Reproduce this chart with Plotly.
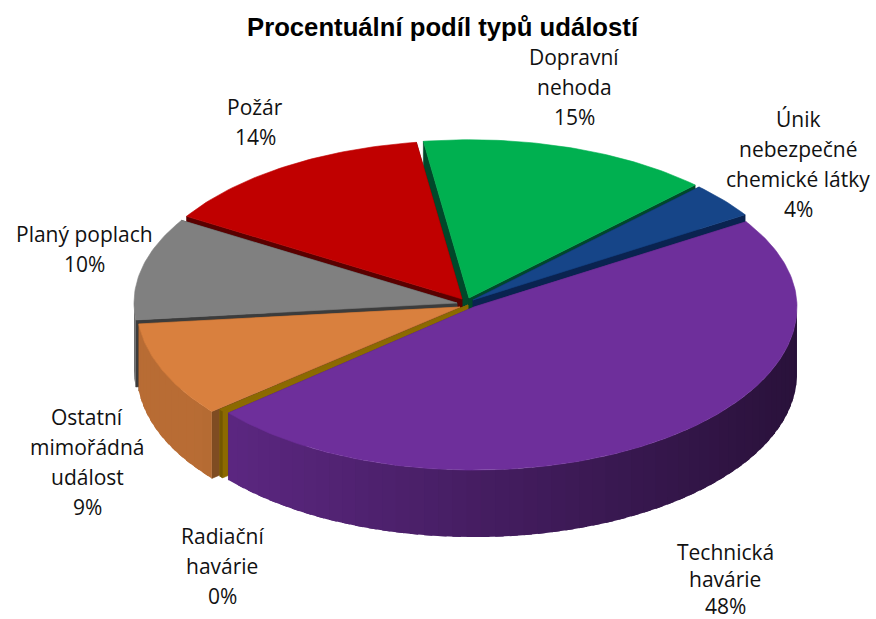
import math
import plotly.graph_objects as go

categories = ["Technická havárie", "Radiační havárie", "Ostatní mimořádná událost",
              "Planý poplach", "Požár", "Dopravní nehoda", "Únik nebezpečné chemické látky"]
values = [47.8, 0.2, 9.4, 10.4, 14.0, 14.6, 3.6]

# styling
top_colors = ["#6e2f9b", "#8c6a00", "#d9803e", "#808080", "#c00000", "#00b050", "#164588"]
cut_colors = ["#4a2070", "#8c6a00", "#7f4c22", "#3c3c3c", "#5a0000", "#00482a", "#0a2350"]
apexes = [(474, 307), (468, 305), (460, 307), (457, 303), (462, 299), (469, 298), (473, 300)]
label_lines = [["Technická", "havárie"], ["Radiační", "havárie"], ["Ostatní", "mimořádná", "událost"],
               ["Planý poplach"], ["Požár"], ["Dopravní", "nehoda"], ["Únik", "nebezpečné", "chemické látky"]]
label_pos = [(725, 552), (222, 536), (87, 417), (84, 234), (255, 107), (574, 57), (798, 119)]
line_gaps = [27, 30, 30, 30, 30, 30, 30]
paint_order = [5, 6, 4, 3, 2, 1, 0]
START = -32.6
RX, K_BACK, K_FRONT, DEPTH = 323, 0.49, 0.505, 67
W, H = 876, 619

def shade(hex_c, f):
    r, g, b = (int(hex_c[i:i+2], 16) for i in (1, 3, 5))
    return f"rgb({int(r*f)},{int(g*f)},{int(b*f)})"

def rim(a, t, dy=0):
    r = math.radians(t)
    s = math.sin(r)
    return a[0] + RX*math.cos(r), a[1] + RX*(K_FRONT if s > 0 else K_BACK)*s + dy

def poly(fig, pts, color, lw=0.6):
    fig.add_trace(go.Scatter(x=[p[0] for p in pts] + [pts[0][0]], y=[p[1] for p in pts] + [pts[0][1]],
                             mode="lines", fill="toself", fillcolor=color,
                             line=dict(color=color, width=lw), hoverinfo="skip", showlegend=False))

total = sum(values)
angles = []
t = START
for v in values:
    angles.append((t, t + v/total*360))
    t += v/total*360

fig = go.Figure()
for i in paint_order:
    a = apexes[i]
    t0, t1 = angles[i]
    # cut faces
    for tt in (t0, t1):
        p = rim(a, tt)
        poly(fig, [a, p, (p[0], p[1]+DEPTH), (a[0], a[1]+DEPTH)], cut_colors[i])
    # outer wall, in short overlapping shaded segments painted from the left end to the right
    lo, hi = max(t0, 0), min(t1, 180)
    if hi > lo:
        n = max(2, int((hi-lo)/2.5))
        for s in reversed(range(n)):
            u0 = lo + (hi-lo)*s/n
            u1 = lo + (hi-lo)*(s+1)/n
            u0x = max(lo, u0 - 1.5)
            f = min(0.85, 0.637 - 0.257*math.cos(math.radians((u0+u1)/2)))
            poly(fig, [rim(a, u0x), rim(a, u1), rim(a, u1, DEPTH), rim(a, u0x, DEPTH)],
                 shade(top_colors[i], f), lw=0)
    # top
    steps = max(2, int((t1-t0)))
    pts = [a] + [rim(a, t0 + (t1-t0)*s/steps) for s in range(steps+1)]
    poly(fig, pts, top_colors[i])

ann = [dict(x=443, y=27, text="<b>Procentuální podíl typů událostí</b>", showarrow=False,
            xanchor="center", yanchor="middle",
            font=dict(family="Liberation Sans", size=25.7, color="black"))]
for v, lines, (x, y), gap in zip(values, label_lines, label_pos, line_gaps):
    for j, s in enumerate(lines + [f"{round(v)}%"]):
        ann.append(dict(x=x, y=y + j*gap, text=s, showarrow=False, xanchor="center", yanchor="middle",
                        font=dict(family="Open Sans", size=21, color="#111111")))

fig.update_layout(width=W, height=H, margin=dict(l=0, r=0, t=0, b=0), autosize=False,
                  paper_bgcolor="white", plot_bgcolor="white", annotations=ann,
                  xaxis=dict(range=[0, W], visible=False, fixedrange=True),
                  yaxis=dict(range=[H, 0], visible=False, fixedrange=True))
fig.write_html("out.html", config=dict(displayModeBar=False),
               post_script="document.body.style.margin='0';document.body.style.overflow='hidden';")
